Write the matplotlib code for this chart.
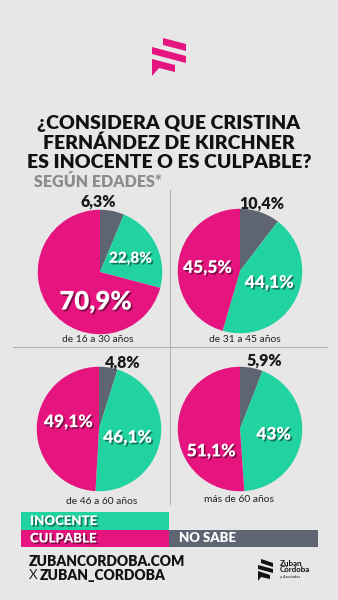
import matplotlib
matplotlib.use("Agg")
import matplotlib.pyplot as plt
import matplotlib.patheffects as pe
from matplotlib.patches import Polygon, Rectangle

plt.rcParams["font.family"] = ["Lato", "DejaVu Sans"]

# survey results by age group
groups = ["de 16 a 30 años", "de 31 a 45 años", "de 46 a 60 años", "más de 60 años"]
no_sabe = [6.3, 10.4, 4.8, 5.9]
inocente = [22.8, 44.1, 46.1, 43.0]
culpable = [70.9, 45.5, 49.1, 51.1]
value_labels = {
    "no_sabe": ["6,3%", "10,4%", "4,8%", "5,9%"],
    "inocente": ["22,8%", "44,1%", "46,1%", "43%"],
    "culpable": ["70,9%", "45,5%", "49,1%", "51,1%"],
}

PINK = "#e5147e"
GREEN = "#20d3a1"
GRAY = "#5f6473"
BG = "#e7e7e7"

W, H = 338, 600
fig = plt.figure(figsize=(W / 100, H / 100), dpi=100, facecolor=BG)

# full-canvas axes in pixel units for all decoration
bg = fig.add_axes([0, 0, 1, 1])
bg.set_xlim(0, W)
bg.set_ylim(H, 0)
bg.axis("off")
bg.set_facecolor(BG)

# brand mark at the top
for pts in [
    [(163, 38), (186, 44), (186, 51), (163, 45)],
    [(152, 47), (186, 56), (186, 63), (152, 54)],
    [(152, 59), (175, 65), (175, 72), (159, 68), (152, 76)],
]:
    bg.add_patch(Polygon(pts, closed=True, color=PINK, lw=0))

title = ["¿CONSIDERA QUE CRISTINA", "FERNÁNDEZ DE KIRCHNER", "ES INOCENTE O ES CULPABLE?"]
for i, line in enumerate(title):
    bg.text(169, 124 + i * 19.5, line, ha="center", va="center",
            fontsize=14, fontweight="heavy", color="#111111")
bg.text(34, 182, "SEGÚN EDADES*", ha="left", va="center",
        fontsize=11.5, fontweight="heavy", color="#8c8c8c")

# grid separators
bg.plot([170, 170], [190, 504], color="#b3b3b3", lw=0.8)
bg.plot([13, 327], [347, 347], color="#b3b3b3", lw=0.8)

centers = [(100, 272), (240, 271), (99, 429), (240, 429)]
R = 63.5
age_pos = [(98, 340), (245, 340), (102, 502), (239, 499)]

# label offsets in unit-radius pie coordinates
pos_ns = [(-0.03, 1.13), (0.35, 1.08), (0.39, 1.06), (0.39, 1.09)]
pos_in = [(0.49, 0.22), (0.47, -0.19), (0.46, -0.14), (0.54, -0.09)]
pos_cu = [(-0.07, -0.48), (-0.52, 0.05), (-0.49, 0.11), (-0.46, -0.36)]
size_in = [11, 12.5, 12.5, 12.5]
size_cu = [18.5, 12.5, 12.5, 12.5]

shadow = [pe.withSimplePatchShadow(offset=(1.2, -1.2), shadow_rgbFace="#000000", alpha=0.45)]

for i, (cx, cy) in enumerate(centers):
    ax = fig.add_axes([(cx - R) / W, 1 - (cy + R) / H, 2 * R / W, 2 * R / H])
    ax.pie([no_sabe[i], inocente[i], culpable[i]], colors=[GRAY, GREEN, PINK],
           startangle=90, counterclock=False, radius=1,
           wedgeprops=dict(linewidth=0))
    ax.set_xlim(-1.02, 1.02)
    ax.set_ylim(-1.02, 1.02)
    ax.set_aspect("equal")
    ax.axis("off")

    ax.text(*pos_ns[i], value_labels["no_sabe"][i], ha="center", va="center",
            fontsize=11.5, fontweight="heavy", color="#1a1a1a", clip_on=False)
    ax.text(*pos_in[i], value_labels["inocente"][i], ha="center", va="center",
            fontsize=size_in[i], fontweight="heavy", color="white", path_effects=shadow)
    ax.text(*pos_cu[i], value_labels["culpable"][i], ha="center", va="center",
            fontsize=size_cu[i], fontweight="heavy", color="white", path_effects=shadow)

    bg.text(age_pos[i][0], age_pos[i][1], groups[i], ha="center", va="center",
            fontsize=7.4, color="#222222")

# legend bars
bg.add_patch(Rectangle((21, 512), 148, 17.5, color=GREEN, lw=0))
bg.add_patch(Rectangle((21, 529.5), 148, 17.5, color=PINK, lw=0))
bg.add_patch(Rectangle((169, 529.5), 149, 17.5, color=GRAY, lw=0))
bg.text(30, 521, "INOCENTE", ha="left", va="center", fontsize=9.5,
        fontweight="heavy", color="white", path_effects=shadow)
bg.text(30, 538.5, "CULPABLE", ha="left", va="center", fontsize=9.5,
        fontweight="heavy", color="white", path_effects=shadow)
bg.text(179, 538.5, "NO SABE", ha="left", va="center", fontsize=9.5,
        fontweight="heavy", color="white")

# footer
bg.text(29, 561, "ZUBANCORDOBA.COM", ha="left", va="center", fontsize=10,
        fontweight="heavy", color="#111111")
bg.text(29, 575, "X", ha="left", va="center", fontsize=9.5,
        fontweight="normal", color="#222222")
bg.text(40, 575, "ZUBAN_CORDOBA", ha="left", va="center", fontsize=10,
        fontweight="heavy", color="#111111")

for pts in [
    [(261, 559), (273, 563), (273, 567), (261, 563)],
    [(258, 565), (273, 569), (273, 573), (258, 569)],
    [(258, 571), (270, 575), (270, 579), (261, 577), (258, 581)],
]:
    bg.add_patch(Polygon(pts, closed=True, color="#111111", lw=0))
bg.text(280, 563, "Zuban", ha="left", va="center", fontsize=5.8,
        fontweight="bold", color="#111111")
bg.text(280, 570, "Córdoba", ha="left", va="center", fontsize=5.8,
        fontweight="bold", color="#111111")
bg.text(280, 577, "y Asociados", ha="left", va="center", fontsize=2.8,
        color="#111111")

fig.savefig("out.png", dpi=100, facecolor=BG)
